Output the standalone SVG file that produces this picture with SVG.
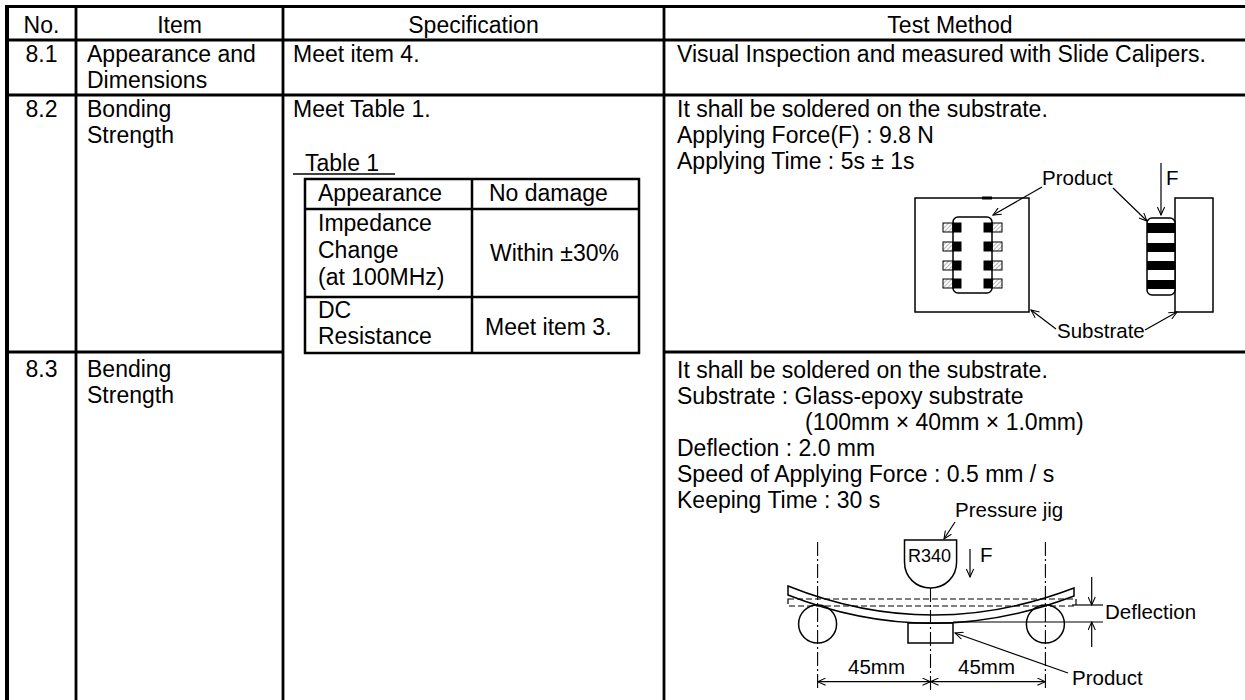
<svg xmlns="http://www.w3.org/2000/svg" width="1245" height="700" viewBox="0 0 1245 700">
<defs>
<style>
text{font-family:"Liberation Sans",Arial,sans-serif;fill:#000}
.b{font-size:23px}
.lb{font-size:20.5px}
.sm{font-size:18px}
.c{text-anchor:middle}
.d{stroke:#000;fill:none;stroke-width:1.5}
.dw{stroke:#000;fill:#fff;stroke-width:1.5}
.cl{stroke:#000;fill:none;stroke-width:1.1;stroke-dasharray:14 3 2 3}
.ar{stroke:#000;fill:none;stroke-width:1.2;marker-end:url(#ah)}
.ar2{stroke:#000;fill:none;stroke-width:1.2;marker-end:url(#ah);marker-start:url(#ah)}
</style>
<marker id="ah" viewBox="0 0 10 10" refX="10" refY="5" markerWidth="10" markerHeight="8" markerUnits="userSpaceOnUse" orient="auto-start-reverse"><path d="M0,0.5 L10,5 L0,9.5" fill="none" stroke="#000" stroke-width="1.3"/></marker>
<pattern id="hatch" width="3" height="3" patternUnits="userSpaceOnUse" patternTransform="rotate(45)"><rect width="3" height="3" fill="#fff"/><line x1="0" y1="0" x2="0" y2="3" stroke="#888" stroke-width="1.2"/></pattern>
</defs>
<rect width="1245" height="700" fill="#fff"/>

<g id="table-grid" stroke="#000" fill="none">
<line x1="5" y1="6.5" x2="1245" y2="6.5" stroke-width="3"/>
<line x1="5" y1="40" x2="1245" y2="40" stroke-width="3"/>
<line x1="5" y1="95" x2="1245" y2="95" stroke-width="2.8"/>
<line x1="5" y1="352" x2="283" y2="352" stroke-width="2.8"/>
<line x1="664" y1="352" x2="1245" y2="352" stroke-width="2.8"/>
<line x1="7" y1="5" x2="7" y2="700" stroke-width="4"/>
<line x1="76" y1="5" x2="76" y2="700" stroke-width="2.8"/>
<line x1="283" y1="5" x2="283" y2="700" stroke-width="2.8"/>
<line x1="664" y1="5" x2="664" y2="700" stroke-width="2.8"/>
</g>

<g id="header">
<text class="b c" x="41.5" y="33">No.</text>
<text class="b c" x="179.5" y="33">Item</text>
<text class="b c" x="473.5" y="33">Specification</text>
<text class="b c" x="950" y="33">Test Method</text>
</g>

<g id="row-8-1">
<text class="b c" x="41.5" y="62">8.1</text>
<text class="b" x="87" y="62">Appearance and</text>
<text class="b" x="87" y="88">Dimensions</text>
<text class="b" x="293" y="62">Meet item 4.</text>
<text class="b" x="677" y="62">Visual Inspection and measured with Slide Calipers.</text>
</g>

<g id="row-8-2">
<text class="b c" x="41.5" y="117">8.2</text>
<text class="b" x="87" y="117">Bonding</text>
<text class="b" x="87" y="143">Strength</text>
<text class="b" x="293" y="117">Meet Table 1.</text>
<text class="b" x="677" y="117">It shall be soldered on the substrate.</text>
<text class="b" x="677" y="143">Applying Force(F) : 9.8 N</text>
<text class="b" x="677" y="169">Applying Time : 5s ± 1s</text>
</g>

<g id="table1">
<text class="b" x="305" y="171">Table 1</text>
<line x1="293" y1="174" x2="395" y2="174" stroke="#000" stroke-width="1.5"/>
<g stroke="#000" fill="none" stroke-width="2.5">
<rect x="305" y="179" width="334" height="174"/>
<line x1="305" y1="209" x2="639" y2="209"/>
<line x1="305" y1="297" x2="639" y2="297"/>
<line x1="472" y1="179" x2="472" y2="353"/>
</g>
<text class="b" x="318" y="201">Appearance</text>
<text class="b" x="489" y="201">No damage</text>
<text class="b" x="318" y="231">Impedance</text>
<text class="b" x="318" y="258">Change</text>
<text class="b" x="318" y="285">(at 100MHz)</text>
<text class="b" x="490" y="261">Within ±30%</text>
<text class="b" x="318" y="318">DC</text>
<text class="b" x="318" y="344">Resistance</text>
<text class="b" x="485" y="335">Meet item 3.</text>
</g>

<g id="row-8-3">
<text class="b c" x="41.5" y="377">8.3</text>
<text class="b" x="87" y="377">Bending</text>
<text class="b" x="87" y="403">Strength</text>
<text class="b" x="677" y="378">It shall be soldered on the substrate.</text>
<text class="b" x="677" y="404">Substrate : Glass-epoxy substrate</text>
<text class="b" x="805" y="430">(100mm × 40mm × 1.0mm)</text>
<text class="b" x="677" y="456">Deflection : 2.0 mm</text>
<text class="b" x="677" y="482">Speed of Applying Force : 0.5 mm / s</text>
<text class="b" x="677" y="508">Keeping Time : 30 s</text>
</g>

<g id="bonding-figure">
<rect class="d" x="915" y="198" width="114" height="114"/>
<line x1="982" y1="198" x2="992" y2="198" stroke="#000" stroke-width="3"/>
<g stroke="#000" stroke-width="1">
<rect x="943" y="223" width="10" height="9" fill="url(#hatch)"/><rect x="953" y="223" width="8" height="9" fill="#000"/>
<rect x="943" y="242" width="10" height="9" fill="url(#hatch)"/><rect x="953" y="242" width="8" height="9" fill="#000"/>
<rect x="943" y="261" width="10" height="9" fill="url(#hatch)"/><rect x="953" y="261" width="8" height="9" fill="#000"/>
<rect x="943" y="279" width="10" height="9" fill="url(#hatch)"/><rect x="953" y="279" width="8" height="9" fill="#000"/>
<rect x="992" y="223" width="10" height="9" fill="url(#hatch)"/><rect x="984" y="223" width="8" height="9" fill="#000"/>
<rect x="992" y="242" width="10" height="9" fill="url(#hatch)"/><rect x="984" y="242" width="8" height="9" fill="#000"/>
<rect x="992" y="261" width="10" height="9" fill="url(#hatch)"/><rect x="984" y="261" width="8" height="9" fill="#000"/>
<rect x="992" y="279" width="10" height="9" fill="url(#hatch)"/><rect x="984" y="279" width="8" height="9" fill="#000"/>
</g>
<rect class="d" x="953" y="217" width="39" height="76" rx="5"/>
<rect class="d" x="1175" y="198" width="38" height="114"/>
<rect class="dw" x="1147" y="218" width="28" height="77" rx="5"/>
<g fill="#000">
<rect x="1147" y="223" width="28" height="10"/>
<rect x="1147" y="243" width="28" height="9"/>
<rect x="1147" y="261" width="28" height="9"/>
<rect x="1147" y="280" width="28" height="9"/>
</g>
<text class="lb" x="1042" y="185">Product</text>
<text class="lb" x="1166" y="185">F</text>
<text class="lb" x="1057" y="338">Substrate</text>
</g>

<g id="bending-figure">
<path class="d" d="M904.5,540 H956.6 V562 C956.6,577 945,588 930.5,588 C916,588 904.5,577 904.5,562 Z"/>
<text class="sm" x="908" y="562">R340</text>
<text class="lb" x="980" y="562">F</text>
<text class="lb" x="955" y="517">Pressure jig</text>
<rect x="788" y="599" width="288" height="7" fill="none" stroke="#000" stroke-width="1.2" stroke-dasharray="6 3"/>
<path class="d" d="M788,586 Q930,643 1074,588 V596 Q930,651 788,595 Z"/>
<circle class="d" cx="817.6" cy="624" r="19"/>
<circle class="d" cx="1045.4" cy="624" r="19"/>
<rect class="d" x="908" y="623" width="45" height="20"/>
<line class="cl" x1="817.6" y1="542" x2="817.6" y2="690"/>
<line class="cl" x1="1045.4" y1="542" x2="1045.4" y2="690"/>
<line class="cl" x1="930.5" y1="588" x2="930.5" y2="690"/>
<line x1="1072" y1="605" x2="1103" y2="605" stroke="#000" stroke-width="1.2"/>
<line x1="953" y1="622" x2="1103" y2="622" stroke="#000" stroke-width="1.2"/>
<text class="lb" x="1105" y="619">Deflection</text>
<text class="lb" x="848" y="674">45mm</text>
<text class="lb" x="958" y="674">45mm</text>
<text class="lb" x="1072" y="685">Product</text>
</g>

<g id="connectors">
<line class="ar" x1="1161" y1="163" x2="1161" y2="215"/>
<line class="ar" x1="1042" y1="187" x2="993" y2="215"/>
<line class="ar" x1="1113" y1="188" x2="1147" y2="221"/>
<line class="ar" x1="1056" y1="329" x2="1031" y2="310"/>
<line class="ar" x1="1145" y1="330" x2="1177" y2="312"/>
<line class="ar" x1="955" y1="522" x2="944" y2="539"/>
<line class="ar" x1="970" y1="549" x2="970" y2="577"/>
<line class="ar" x1="1091.7" y1="577" x2="1091.7" y2="605"/>
<line class="ar" x1="1091.7" y1="647" x2="1091.7" y2="622"/>
<line class="ar2" x1="817.6" y1="681.7" x2="930.5" y2="681.7"/>
<line class="ar2" x1="930.5" y1="681.7" x2="1045.4" y2="681.7"/>
<line class="ar" x1="1068" y1="673" x2="955" y2="633"/>
</g>
</svg>
